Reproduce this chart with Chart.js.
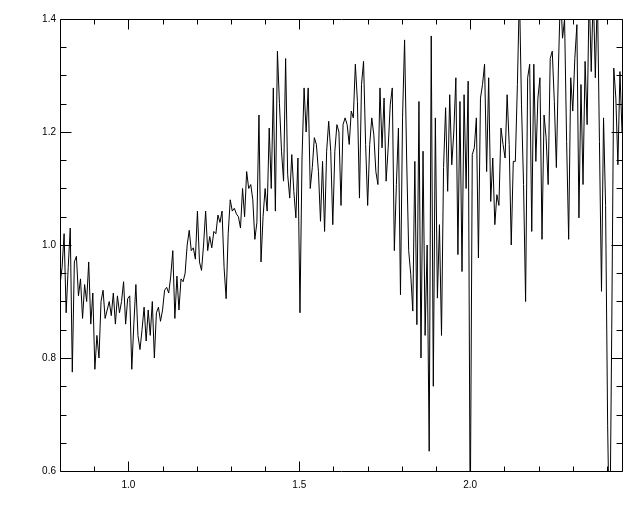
<!DOCTYPE html>
<html>
<head>
<meta charset="utf-8">
<script src="https://cdn.jsdelivr.net/npm/chart.js@4.4.0/dist/chart.umd.min.js"></script>
<style>
    html, body { margin: 0; padding: 0; background: #fff; }
    #spec { display: block; }
</style>
</head>
<body>
<canvas id="spec" width="640" height="512"></canvas>
<script>
// wavelength grid (microns)
const waveStart = 0.8;
const waveStep = 0.006;

// flux values, left to right
const flux = [
    0.93, 0.96, 1.02, 0.88, 0.96, 1.03, 0.775, 0.97, 0.98, 0.91,
    0.94, 0.87, 0.93, 0.90, 0.97, 0.86, 0.915, 0.78, 0.84, 0.80,
    0.90, 0.92, 0.87, 0.885, 0.90, 0.875, 0.915, 0.86, 0.91, 0.88,
    0.90, 0.935, 0.86, 0.905, 0.91, 0.78, 0.86, 0.93, 0.84, 0.815,
    0.85, 0.89, 0.83, 0.885, 0.84, 0.90, 0.80,
    0.88, 0.89, 0.865, 0.885, 0.92, 0.925, 0.915, 0.945, 0.99, 0.87,
    0.945, 0.885, 0.94, 0.935, 0.95, 1.0, 1.026, 0.99, 0.995, 0.975,
    1.06, 0.97, 0.955, 1.0, 1.06, 0.99, 1.015, 0.995, 1.024, 1.02,
    1.053, 1.04, 1.06, 0.96, 0.905, 1.02, 1.08, 1.06, 1.065, 1.055,
    1.05, 1.03, 1.10, 1.05, 1.13, 1.10,
    1.107, 1.08, 1.01, 1.04, 1.23, 0.97, 1.05, 1.10, 1.06, 1.207,
    1.10, 1.278, 1.06, 1.343, 1.25, 1.166, 1.113, 1.33, 1.125, 1.083,
    1.16, 1.095, 1.048, 1.154, 0.88, 1.154, 1.278, 1.20, 1.278, 1.10,
    1.137, 1.19, 1.178, 1.13, 1.042, 1.148, 1.024, 1.166, 1.219, 1.166,
    1.036, 1.166, 1.213, 1.20, 1.07, 1.213, 1.225,
    1.213, 1.178, 1.237, 1.225, 1.32, 1.254, 1.083, 1.284, 1.325, 1.178,
    1.07, 1.178, 1.225, 1.195, 1.13, 1.107, 1.278, 1.172, 1.26, 1.113,
    1.172, 1.248, 1.278, 0.99, 1.107, 1.207, 0.912, 1.225, 1.363, 1.154,
    0.99, 0.948, 0.883, 1.148, 0.859, 1.254, 0.80, 1.166, 0.84, 1.0,
    0.635, 1.37, 0.75, 1.225, 0.906, 1.036,
    0.84, 1.137, 1.243, 1.095, 1.266, 1.142, 1.20, 1.296, 0.983, 1.254,
    0.953, 1.266, 1.10, 1.29, 0.5, 1.16, 1.172, 1.225, 0.977, 1.26,
    1.284, 1.32, 1.13, 1.296, 1.077, 1.154, 1.036, 1.089, 1.07, 1.207,
    1.178, 1.154, 1.266, 1.178, 1.0, 1.148, 1.148, 1.284, 1.45, 1.248,
    1.107, 0.90, 1.296, 1.32, 1.024, 1.32,
    1.148, 1.26, 1.296, 1.01, 1.23, 1.19, 1.107, 1.33, 1.343, 1.254,
    1.137, 1.313, 1.45, 1.366, 1.40, 1.183, 1.01, 1.296, 1.237, 1.33,
    1.39, 1.048, 1.284, 1.107, 1.325, 1.213, 1.45, 1.307, 1.45, 1.296,
    1.45, 1.183, 0.918, 1.225, 1.07, 0.68, 0.45, 0.85, 1.313, 1.26,
    1.142, 1.307, 1.20
];

// axis ranges and ticks
const xRange = [0.8, 2.444];
const yRange = [0.6, 1.4];
const xMajorTicks = [1.0, 1.5, 2.0];
const xMinorTicks = [0.9, 1.1, 1.2, 1.3, 1.4, 1.6, 1.7, 1.8, 1.9, 2.1, 2.2, 2.3, 2.4];
const yMajorTicks = [0.6, 0.8, 1.0, 1.2, 1.4];
const yMinorTicks = [0.65, 0.7, 0.75, 0.85, 0.9, 0.95, 1.05, 1.1, 1.15, 1.25, 1.3, 1.35];

const points = flux.map((v, i) => ({ x: waveStart + i * waveStep, y: v }));

// IDL-style frame with inward ticks on all four sides
const frameTicks = {
    id: 'frameTicks',
    afterDraw(chart) {
        const ctx = chart.ctx;
        const a = chart.chartArea;
        const xs = chart.scales.x;
        const ys = chart.scales.y;
        const L = Math.round(a.left) + 0.5, R = Math.round(a.right) + 0.5;
        const T = Math.round(a.top) + 0.5, B = Math.round(a.bottom) + 0.5;
        ctx.save();
        ctx.strokeStyle = '#000';
        ctx.lineWidth = 1;
        ctx.beginPath();
        ctx.rect(L, T, R - L, B - T);

        const xTick = (v, len) => {
            const px = Math.round(xs.getPixelForValue(v)) + 0.5;
            ctx.moveTo(px, B); ctx.lineTo(px, B - len);
            ctx.moveTo(px, T); ctx.lineTo(px, T + len);
        };
        const yTick = (v, len) => {
            const py = Math.round(ys.getPixelForValue(v)) + 0.5;
            ctx.moveTo(L, py); ctx.lineTo(L + len, py);
            ctx.moveTo(R, py); ctx.lineTo(R - len, py);
        };
        xMajorTicks.forEach(v => xTick(v, 10));
        xMinorTicks.forEach(v => xTick(v, 5));
        yMajorTicks.forEach(v => yTick(v, 11));
        yMinorTicks.forEach(v => yTick(v, 6));
        ctx.stroke();
        ctx.restore();
    }
};

const ctx = document.getElementById('spec').getContext('2d');
new Chart(ctx, {
    type: 'line',
    data: {
        datasets: [{
            data: points,
            borderColor: '#000',
            borderWidth: 1,
            pointRadius: 0,
            tension: 0,
            fill: false
        }]
    },
    options: {
        responsive: false,
        animation: false,
        devicePixelRatio: 1,
        layout: { padding: { top: 19, right: 18, left: 0, bottom: 0 } },
        plugins: { legend: { display: false }, tooltip: { enabled: false } },
        scales: {
            x: {
                type: 'linear',
                min: xRange[0],
                max: xRange[1],
                afterBuildTicks: s => { s.ticks = xMajorTicks.map(v => ({ value: v })); },
                afterFit: s => { s.height = 41; },
                grid: { display: false, drawTicks: false },
                border: { display: false },
                ticks: {
                    padding: 8,
                    color: '#000',
                    font: { family: 'Liberation Sans, Arial, sans-serif', size: 10 },
                    maxRotation: 0,
                    callback: v => v.toFixed(1)
                }
            },
            y: {
                min: yRange[0],
                max: yRange[1],
                afterBuildTicks: s => { s.ticks = yMajorTicks.map(v => ({ value: v })); },
                afterFit: s => { s.width = 60; },
                grid: { display: false, drawTicks: false },
                border: { display: false },
                ticks: {
                    padding: 4,
                    color: '#000',
                    font: { family: 'Liberation Sans, Arial, sans-serif', size: 10 },
                    callback: v => v.toFixed(1)
                }
            }
        }
    },
    plugins: [frameTicks]
});
</script>
</body>
</html>
